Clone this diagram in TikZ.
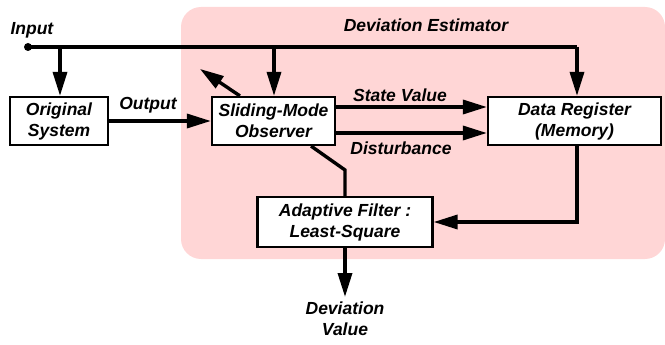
\documentclass[tikz,border=0pt]{standalone}
\usepackage{fontspec}
\setmainfont{Liberation Sans}
\usetikzlibrary{arrows.meta}
\definecolor{estpink}{RGB}{255,214,214}

\begin{document}
\begin{tikzpicture}[x=1pt, y=-1pt, >={Triangle[length=24pt,width=14pt]},
  font=\fontsize{17.5}{21}\selectfont\bfseries\itshape,
  box/.style={draw, line width=2.2pt, fill=white, minimum height=48pt, align=center, inner sep=0pt},
  wire/.style={line width=3.4pt}]
  \useasboundingbox (0,0) rectangle (665,345);
  % Estimator area
  \fill[estpink, rounded corners=20pt] (181,7) rectangle (665,259);
  \node (esttitle) at (426,25) {Deviation Estimator};
  % Blocks
  \node[box, minimum width=98pt] (orig) at (59,121) {Original\\System};
  \node[box, minimum width=123pt] (smo) at (273.5,121) {Sliding-Mode\\Observer};
  \node[box, minimum width=173pt] (reg) at (574.5,121) {Data Register\\(Memory)};
  \node[box, minimum width=175pt, minimum height=50pt] (filt) at (345,222) {Adaptive Filter :\\Least-Square};
  % Input bus
  \node[circle, fill, inner sep=0pt, minimum size=8pt] (in) at (28,47) {};
  \node[anchor=west] (inlbl) at (7,30) {Input};
  \coordinate (k1) at (60,47);
  \coordinate (k2) at (274,47);
  \coordinate (k3) at (577,47);
  \draw[wire] (in.center) -- (k3);
  \draw[wire,->] (k1) -- (k1 |- orig.north);
  \draw[wire,->] (k2) -- (k2 |- smo.north);
  \draw[wire,->] (k3) -- (k3 |- reg.north);
  % Signals
  \draw[wire,->] (orig) -- (smo);
  \node (outlbl) at (148,105) {Output};
  \draw[wire,->] ([yshift=14pt]smo.east) -- ([yshift=14pt]reg.west);
  \node (statelbl) at (400,95) {State Value};
  \draw[wire,->] ([yshift=-12pt]smo.east) -- ([yshift=-12pt]reg.west);
  \node (distlbl) at (401,148) {Disturbance};
  \draw[wire,->] ([xshift=29pt]smo.north west) -- ++(-40,-27);
  \coordinate (k4) at (345,170);
  \draw[wire] ([xshift=-25pt]smo.south east) -- (k4) -- (filt.north);
  \coordinate (k5) at (577,222);
  \draw[wire,->] (k3 |- reg.south) -- (k5) -- (filt.east);
  \coordinate (devout) at (345,297);
  \draw[wire,->] (filt.south) -- (devout);
  \node[below, align=center, inner sep=5pt] (devlbl) at (devout) {Deviation\\Value};
\end{tikzpicture}
\end{document}
